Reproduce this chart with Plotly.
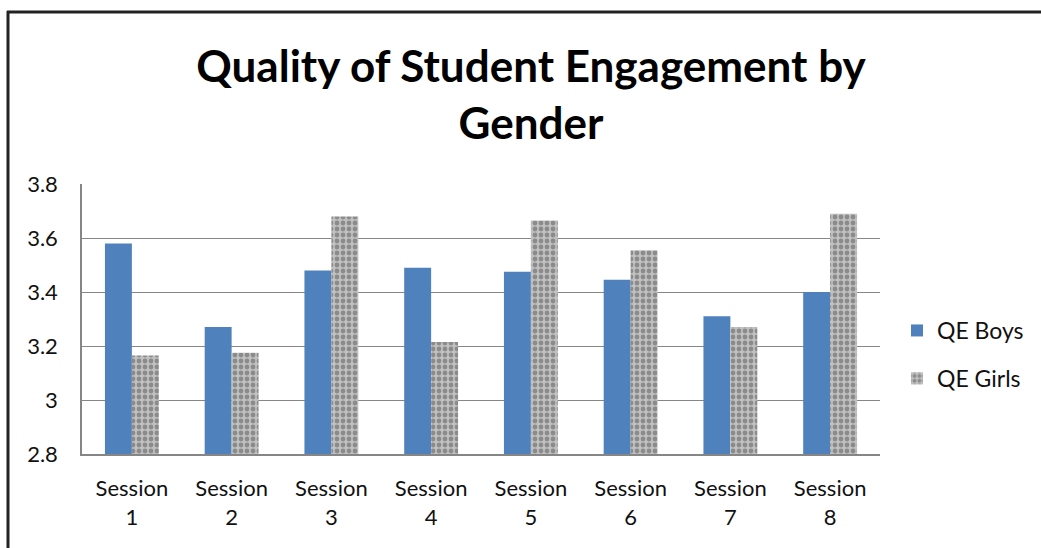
import plotly.graph_objects as go

categories = ["Session<br>1", "Session<br>2", "Session<br>3", "Session<br>4",
              "Session<br>5", "Session<br>6", "Session<br>7", "Session<br>8"]
qe_boys = [3.58, 3.27, 3.48, 3.49, 3.475, 3.445, 3.31, 3.40]
qe_girls = [3.165, 3.175, 3.68, 3.215, 3.665, 3.555, 3.27, 3.69]
y_ticks = [2.8, 3.0, 3.2, 3.4, 3.6, 3.8]
y_tick_text = ["2.8", "3", "3.2", "3.4", "3.6", "3.8"]

FONT = "Lato"
L, R, T, B = 82, 161, 184, 94
W, H = 1041, 548
pw, ph = W - L - R, H - T - B

fig = go.Figure()
fig.add_trace(go.Bar(
    x=categories, y=qe_boys, name="QE Boys", legendgroup="a",
    marker=dict(color="#4F81BD", line=dict(width=0)),
))
fig.add_trace(go.Bar(
    x=categories, y=qe_girls, name="QE Girls", legendgroup="b",
    marker=dict(color="#a9a9a9", line=dict(width=0),
                pattern=dict(shape=".", fgcolor="#555555", bgcolor="#c0c0c0",
                             size=6, solidity=0.5)),
))

def px2x(px):
    return (px - L) / pw

def py2y(py):
    return (H - B - py) / ph

fig.update_layout(
    width=W, height=H,
    margin=dict(l=L, r=R, t=T, b=B, autoexpand=False),
    paper_bgcolor="white", plot_bgcolor="white",
    barmode="group", bargap=0.46, bargroupgap=0,
    font=dict(family=FONT, size=22, color="#111111"),
    title=dict(
        text="<b>Quality of Student Engagement by<br>Gender</b>",
        x=531 / W, xanchor="center", y=1 - 82 / H, yanchor="top",
        font=dict(family=FONT, size=44, color="black"),
    ),
    legend=dict(
        x=px2x(897), xanchor="left", y=py2y(309), yanchor="top",
        font=dict(family=FONT, size=23, color="#111111"),
        traceorder="grouped", tracegroupgap=15, itemwidth=30,
        bgcolor="rgba(0,0,0,0)",
    ),
    xaxis=dict(
        showgrid=False, showline=True, linecolor="#868686", linewidth=1.5,
        ticks="", ticklabelstandoff=14, automargin=False,
        tickfont=dict(family=FONT, size=22, color="#111111"),
    ),
    yaxis=dict(
        range=[2.8, 3.8], tickvals=y_ticks, ticktext=y_tick_text,
        showgrid=True, gridcolor="#868686", gridwidth=1.4,
        showline=True, linecolor="#868686", linewidth=1.5,
        ticks="", ticklabelstandoff=18, automargin=False,
        tickfont=dict(family=FONT, size=22, color="#111111"),
        zeroline=False,
    ),
    shapes=[
        dict(type="line", xref="paper", yref="paper",
             x0=px2x(8), x1=px2x(8), y0=py2y(11), y1=py2y(560),
             line=dict(color="#222222", width=3)),
        dict(type="line", xref="paper", yref="paper",
             x0=px2x(7), x1=px2x(1050), y0=py2y(12), y1=py2y(12),
             line=dict(color="#222222", width=3)),
    ],
)

fig.write_html("out.html", config={"displayModeBar": False},
               post_script="document.body.style.margin='0px';")
